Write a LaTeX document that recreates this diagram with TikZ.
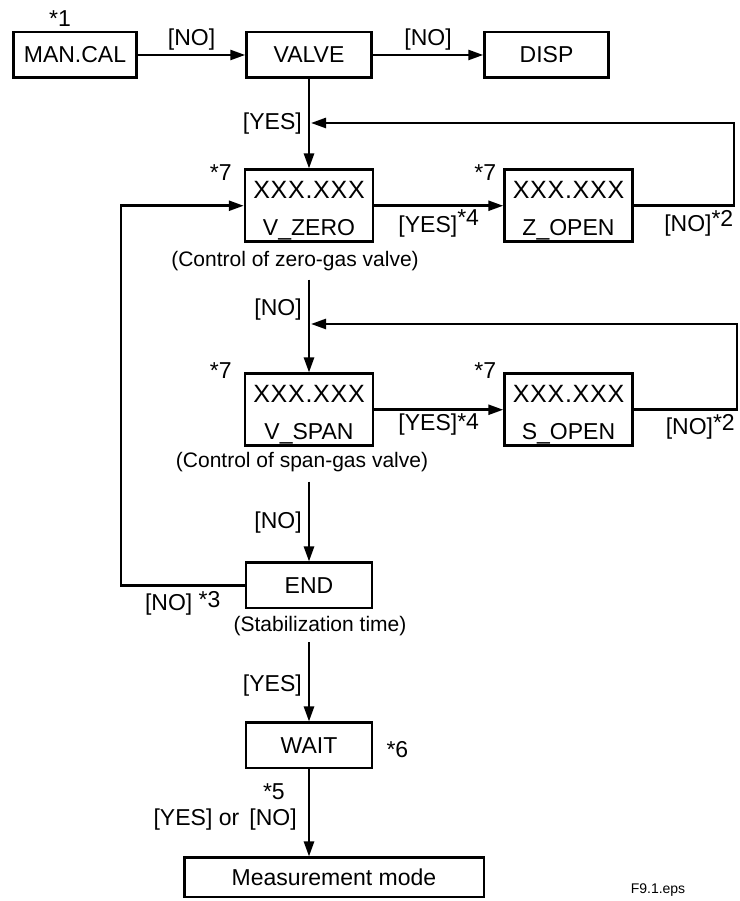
\documentclass[tikz,border=0pt]{standalone}
\usepackage{fontspec}
\setmainfont{Liberation Sans}
\newfontfamily\widefont[LetterSpace=3]{Liberation Sans}
\usetikzlibrary{arrows.meta, positioning}
\newcommand{\starup}[2]{\raisebox{#1}{*#2}}
\newcommand{\readout}[1]{{\widefont\fontsize{25}{37}\selectfont\rule{0pt}{28pt}XXX.XXX}\\#1}

\begin{document}
\begin{tikzpicture}[x=1pt, y=1pt, >={Triangle[length=15pt,width=10pt]}, line width=2.5pt,
    font=\fontsize{23}{37}\selectfont,
    box/.style={draw, minimum width=124pt, minimum height=45.5pt, inner sep=0pt},
    valbox/.style={draw, minimum width=128pt, minimum height=72pt, inner sep=0pt, align=center},
    capt/.style={font=\fontsize{21}{25}\selectfont, inner sep=3pt},
    note/.style={inner sep=3pt}]
  \useasboundingbox (0,0) rectangle (739,901);

  \node[box, minimum width=123pt] (mancal) at (75,846) {MAN.CAL};
  \node[box, minimum width=125pt] (valve) [right=107.5pt of mancal] {VALVE};
  \node[box] (disp) [right=110.5pt of valve] {DISP};

  \node[valbox] (vzero) [below=89.5pt of valve] {\readout{V\_ZERO}};
  \node[valbox] (zopen) [right=129pt of vzero] {\readout{Z\_OPEN}};
  \node[capt] (zerocap) [below=4.5pt of vzero, xshift=-14pt] {(Control of zero-gas valve)};

  \node[valbox] (vspan) [below=129.5pt of vzero] {\readout{V\_SPAN}};
  \node[valbox] (sopen) [right=129pt of vspan] {\readout{S\_OPEN}};
  \node[capt] (spancap) [below=1.5pt of vspan, xshift=-7pt] {(Control of span-gas valve)};

  \node[box, minimum width=126pt] (endb) [below=114.5pt of vspan] {END};
  \node[capt] (stabcap) [below=2.5pt of endb, xshift=11pt] {(Stabilization time)};
  \node[box, minimum width=126pt] (wait) [below=112pt of endb] {WAIT};
  \node[box, minimum width=299.5pt, minimum height=39.5pt] (meas) [below=87pt of wait, xshift=25pt] {Measurement mode};

  % notes
  \node[note, anchor=south] (n1) at ([xshift=-15pt]mancal.north) {*1};
  \node[note] (n7a) at ([xshift=-23pt,yshift=-4pt]vzero.north west) {*7};
  \node[note] (n7b) at ([xshift=-18pt,yshift=-4pt]zopen.north west) {*7};
  \node[note] (n7c) at ([xshift=-23pt,yshift=2pt]vspan.north west) {*7};
  \node[note] (n7d) at ([xshift=-18pt,yshift=2pt]sopen.north west) {*7};
  \node[note, anchor=west] (n6) at ([xshift=9pt,yshift=-4pt]wait.east) {*6};
  \node[font=\fontsize{14}{16}\selectfont] (fig) at (658,11) {F9.1.eps};

  \coordinate (j1) at (311,778);
  \coordinate (j2) at (311,577);

  \draw[->] (mancal) -- node[above, inner sep=3pt]{[NO]} (valve);
  \draw[->] (valve) -- node[above, inner sep=3pt]{[NO]} (disp);
  \draw[->] (valve) -- node[left=6pt, inner sep=0pt]{[YES]} (vzero);
  \draw[->] (vzero) -- node[below=3pt, inner sep=0pt]{[YES]\starup{7pt}{4}} (zopen);
  \draw[->] (zopen.east) -- node[below=3pt, inner sep=0pt, xshift=15pt]{[NO]\starup{5pt}{2}} ++(100pt,0) |- (j1);

  \draw[->, shorten <=4pt] (zerocap.south -| vzero) -- node[left=6pt, inner sep=0pt, pos=0.35]{[NO]} (vspan);
  \draw[->] (vspan) -- node[below=3pt, inner sep=0pt]{[YES]\starup{1pt}{4}} (sopen);
  \draw[->] (sopen.east) -- node[below=3pt, inner sep=0pt, xshift=15pt]{[NO]\starup{4pt}{2}} ++(103pt,0) |- (j2);

  \draw[->, shorten <=5pt] (spancap.south -| vspan) -- node[left=6pt, inner sep=0pt, pos=0.54]{[NO]} (endb);
  \draw[->] (endb.west) -- node[below=5pt, inner sep=0pt]{[NO] \starup{3pt}{3}} ++(-124pt,0) |- (vzero.west);

  \draw[->, shorten <=2pt] (stabcap.south -| endb) -- node[left=6pt, inner sep=0pt, pos=0.56]{[YES]} (wait);
  \draw[->] (wait) -- node[left=23pt, inner sep=0pt, pos=0.26]{*5}
    node[left=11pt, inner sep=0pt, pos=0.58]{[YES] or \,[NO]} (wait.south |- meas.north);
\end{tikzpicture}
\end{document}
